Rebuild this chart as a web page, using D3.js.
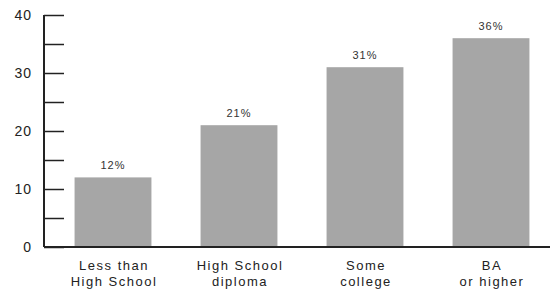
<!DOCTYPE html>
<html lang="en">
<head>
  <meta charset="UTF-8">
  <script src="https://cdn.jsdelivr.net/npm/d3@7"></script>
  <style>
    body { margin: 0; background: #fff; }
    text { font-family: 'Liberation Sans', Arial, sans-serif; }
  </style>
</head>
<body>
  <div id="box"></div>
  <script>
    // data
    const categories = [['Less than', 'High School'], ['High School', 'diploma'], ['Some', 'college'], ['BA', 'or higher']]
    const values = [12, 21, 31, 36]
    const yTicks = [0, 10, 20, 30, 40]

    const width = 550
    const height = 297
    const axisX = 44
    const baseY = 247
    const topY = 15

    const svg = d3.select('#box').append('svg')
      .attr('width', width)
      .attr('height', height)

    const xScale = d3.scaleBand()
      .domain(d3.range(values.length))
      .range([50, 554])
      .paddingInner(0.39)
      .paddingOuter(0.195)

    const yScale = d3.scaleLinear().domain([0, 40]).range([baseY, topY])

    // bars
    svg.selectAll('rect.bar').data(values).join('rect')
      .attr('class', 'bar')
      .attr('x', (d, i) => xScale(i))
      .attr('y', d => yScale(d))
      .attr('width', xScale.bandwidth())
      .attr('height', d => yScale(0) - yScale(d))
      .attr('fill', '#a6a6a6')

    // value labels
    svg.selectAll('text.val').data(values).join('text')
      .attr('class', 'val')
      .attr('x', (d, i) => xScale(i) + xScale.bandwidth() / 2)
      .attr('y', d => yScale(d) - 8)
      .attr('text-anchor', 'middle')
      .attr('font-size', 11)
      .attr('letter-spacing', 1)
      .attr('fill', '#333')
      .text(d => d + '%')

    // y axis
    const yAxis = d3.axisLeft(yScale)
      .tickValues(d3.range(0, 41, 5))
      .tickSize(-20)
      .tickFormat(d => yTicks.includes(d) ? d : '')
    const gy = svg.append('g')
      .attr('transform', `translate(${axisX},0)`)
      .call(yAxis)
    gy.select('.domain').remove()
    gy.selectAll('.tick line').attr('stroke', '#222').attr('stroke-width', 1.5)
    gy.selectAll('.tick text')
      .attr('x', -12)
      .attr('font-size', 14)
      .attr('letter-spacing', 1)
      .attr('fill', '#222')
      .style('font-family', "'Liberation Sans', Arial, sans-serif")
    gy.append('line')
      .attr('x1', 0).attr('x2', 0)
      .attr('y1', yScale(40)).attr('y2', yScale(0))
      .attr('stroke', '#222').attr('stroke-width', 2)

    // baseline
    svg.append('line')
      .attr('x1', axisX).attr('x2', width)
      .attr('y1', yScale(0)).attr('y2', yScale(0))
      .attr('stroke', '#222').attr('stroke-width', 2)

    // category labels
    const cat = svg.selectAll('text.cat').data(categories).join('text')
      .attr('class', 'cat')
      .attr('text-anchor', 'middle')
      .attr('font-size', 13)
      .attr('letter-spacing', 1.5)
      .attr('fill', '#222')
    cat.selectAll('tspan').data(d => d).join('tspan')
      .attr('x', function () {
        const i = categories.indexOf(d3.select(this.parentNode).datum())
        return xScale(i) + xScale.bandwidth() / 2 + 1
      })
      .attr('y', (d, j) => 270 + j * 16)
      .text(d => d)
  </script>
</body>
</html>
